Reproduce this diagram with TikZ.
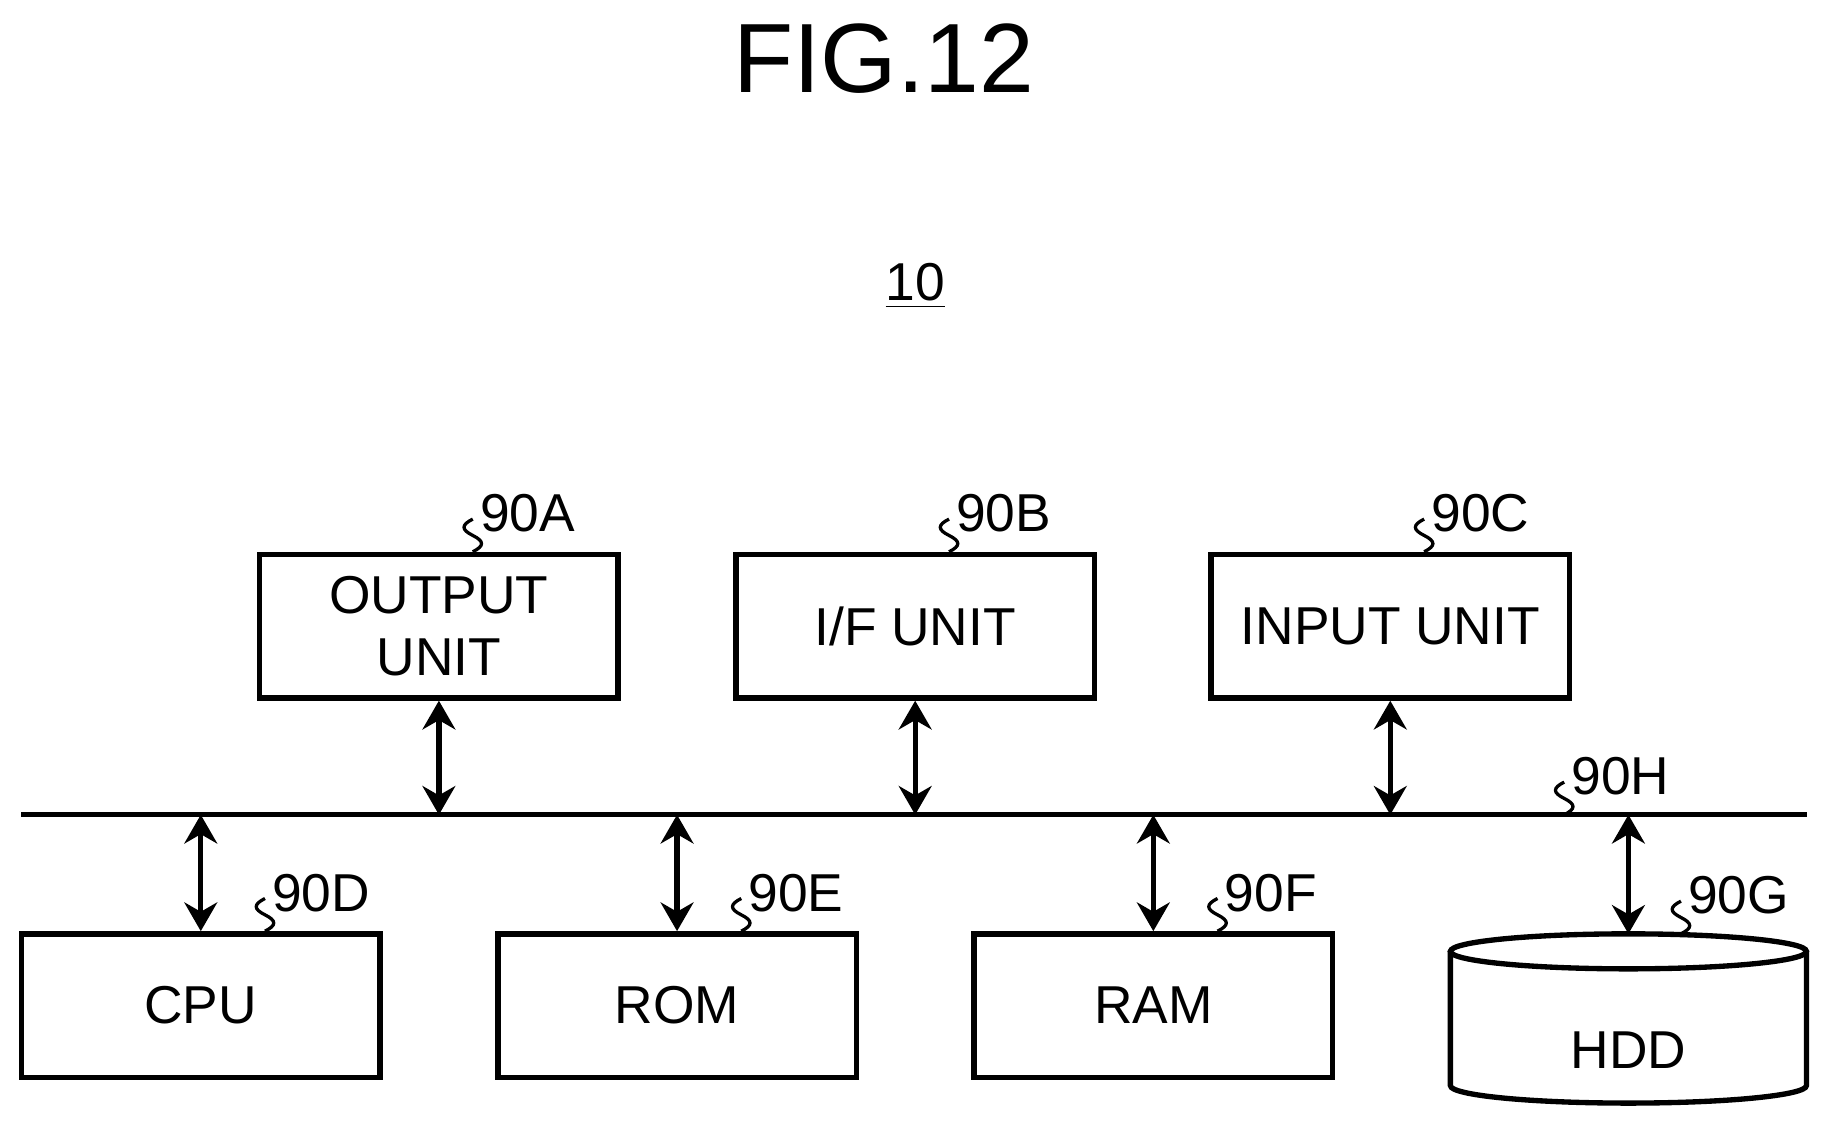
\documentclass[tikz,border=0pt]{standalone}
\usepackage{fontspec}
\setmainfont{Liberation Sans}
\usetikzlibrary{positioning,calc,arrows.meta}

\tikzset{
  unit/.style={draw, line width=1.3pt, minimum width=3.07cm, minimum height=1.23cm,
    font=\fontsize{13}{15}\selectfont, align=center, inner sep=0pt},
  bus/.style={line width=1.3pt, {Stealth[length=7pt,width=8pt]}-{Stealth[length=7pt,width=8pt]}},
  refnum/.style={font=\fontsize{13}{13}\selectfont, inner sep=1pt, anchor=west},
  squig/.style={line width=0.8pt}
}

\newcommand{\leader}[2]{%
  \draw[squig] (#1) .. controls +(0.1,0.05) and +(0.1,-0.05) .. ++(0,0.14)
    .. controls +(-0.1,0.05) and +(-0.1,-0.05) .. ++(0,0.14) coordinate (#2);}

\begin{document}
\begin{tikzpicture}[x=1cm,y=1cm]

\useasboundingbox (0,0) rectangle (15.6,9.68);

\node (fig) at (7.57,9.18) {\fontsize{24}{24}\selectfont FIG.12};
\node (sys) at (7.84,7.23) {\fontsize{13}{13}\selectfont\underline{10}};

% upper units
\node[unit] (out) at (3.76,4.315) {OUTPUT\\UNIT};
\node[unit] (ifu) at (7.84,4.315) {I/F UNIT};
\node[unit] (inp) at (11.91,4.315) {INPUT UNIT};

% bus
\coordinate (busL) at (0.18,2.70);
\coordinate (busR) at (15.48,2.70);
\draw[line width=1.3pt] (busL) -- (busR);

% lower units
\node[unit] (cpu) at (1.72,1.065) {CPU};
\node[unit] (rom) at (5.80,1.065) {ROM};
\node[unit] (ram) at (9.88,1.065) {RAM};

% disk
\draw[line width=1.3pt] (13.95,1.53) ellipse (1.525 and 0.15);
\draw[line width=1.3pt] (12.425,1.53) -- (12.425,0.38)
  arc[start angle=180, end angle=360, x radius=1.525, y radius=0.15] -- (15.475,1.53);
\coordinate (hdd) at (13.95,1.68);
\node[font=\fontsize{13}{13}\selectfont] (hddt) at (13.95,0.68) {HDD};

% connections
\foreach \u in {out,ifu,inp}
  \draw[bus] (\u.south) -- (\u.south |- busL);
\foreach \u in {cpu,rom,ram}
  \draw[bus] (\u.north) -- (\u.north |- busL);
\draw[bus] (hdd) -- (hdd |- busL);

% reference numbers
\coordinate (lA) at ($(out.north)+(0.29,0)$);
\coordinate (lB) at ($(ifu.north)+(0.29,0)$);
\coordinate (lC) at ($(inp.north)+(0.29,0)$);
\coordinate (lD) at ($(cpu.north)+(0.55,0)$);
\coordinate (lE) at ($(rom.north)+(0.55,0)$);
\coordinate (lF) at ($(ram.north)+(0.55,0)$);
\coordinate (lG) at ($(hdd)+(0.45,0)$);
\coordinate (lH) at (13.40,2.70);
\foreach \c/\t in {lA/90A,lB/90B,lC/90C,lD/90D,lE/90E,lF/90F,lG/90G,lH/90H}{
  \leader{\c}{\c e}
  \node[refnum] (n\c) at ($(\c e)+(0.02,0.05)$) {\t};
}

\end{tikzpicture}
\end{document}
